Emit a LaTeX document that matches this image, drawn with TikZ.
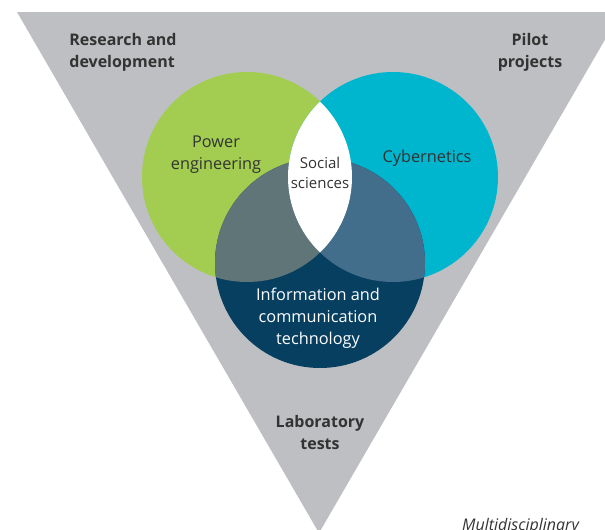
\documentclass[tikz,border=0pt]{standalone}
\usepackage{fontspec}
\setmainfont{Open Sans}
\usepackage{tikz}
\usetikzlibrary{calc}
\definecolor{bebfc2}{RGB}{190,191,194}
\definecolor{aacd50}{RGB}{162,205,80}
\definecolor{qqb5ce}{RGB}{0,181,206}
\definecolor{qq3f61}{RGB}{7,63,97}
\definecolor{ee7677}{RGB}{95,117,119}
\definecolor{ff6e8b}{RGB}{66,110,139}
\definecolor{ttttee}{RGB}{51,51,51}
\tikzstyle{every node}=[inner sep=0pt,align=center]
\tikzstyle{corner}=[font=\fontsize{16}{22}\selectfont\bfseries,color=ttttee]
\tikzstyle{field}=[font=\fontsize{16.3}{22}\selectfont,color=ttttee]
\begin{document}
\begin{tikzpicture}[line cap=round,line join=round,x=1pt,y=-1pt]
\useasboundingbox (0,0) rectangle (605,530);
\clip (0,0) rectangle (605,530);
% funnel
\fill[color=bebfc2] (17,12) -- (621,12) -- (319,533) -- cycle;
% the three circles
\fill[color=aacd50] (247,177) circle (105pt);
\fill[color=qqb5ce] (393,177) circle (105pt);
\fill[color=qq3f61] (320,263) circle (105pt);
\begin{scope}
\clip (320,263) circle (105pt);
\fill[color=ee7677] (247,177) circle (105pt);
\fill[color=ff6e8b] (393,177) circle (105pt);
\end{scope}
\begin{scope}
\clip (247,177) circle (105pt);
\fill[color=white] (393,177) circle (105pt);
\end{scope}
% labels
\node[corner,align=left] (rd) at (123,52) {Research and\\development};
\node[corner] (pilot) at (530,52) {Pilot\\projects};
\node[corner] (lab) at (320,432) {Laboratory\\tests};
\node[field] (power) at (216,155) {Power\\engineering};
\node[field] (cyb) at (427,158) {Cybernetics};
\node[field,font=\fontsize{15}{20}\selectfont] (soc) at (320,173) {Social\\sciences};
\node[field,color=white] (ict) at (318,318) {Information and\\communication\\technology};
\node[field,font=\fontsize{16}{18}\itshape,anchor=base west] (multi) at (462,530) {Multidisciplinary};
\end{tikzpicture}
\end{document}
